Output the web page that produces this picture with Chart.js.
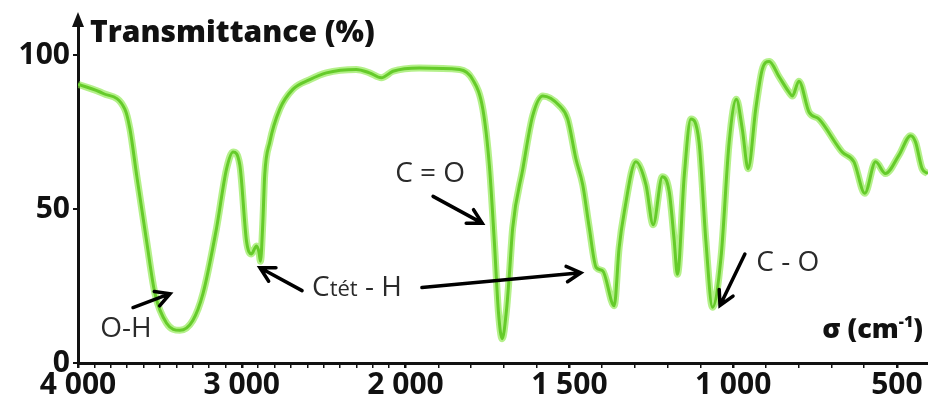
<!DOCTYPE html>
<html>
<head>
<meta charset="utf-8">
<script src="https://cdn.jsdelivr.net/npm/chart.js@4.4.1/dist/chart.umd.min.js"></script>
<style>
  html, body { margin: 0; padding: 0; background: #fff; }
  #wrap { width: 928px; height: 403px; }
</style>
</head>
<body>
<div id="wrap"><canvas id="ir"></canvas></div>
<script>
// spectrum, left (4000 cm-1) to right
const wavenumbers = [
  4000, 3846, 3714, 3683, 3642, 3581, 3530, 3459, 3378, 3299,
  3237, 3154, 3093, 3053, 3012, 2971, 2941, 2910, 2895, 2886,
  2872, 2860, 2829, 2768, 2687, 2585, 2484, 2301, 2220, 2148,
  2077, 1958, 1835, 1795, 1764, 1744, 1729, 1716, 1705, 1692,
  1683, 1673, 1642, 1612, 1581, 1530, 1505, 1480, 1459, 1439,
  1418, 1398, 1363, 1348, 1332, 1297, 1266, 1244, 1216, 1195,
  1180, 1170, 1149, 1129, 1104, 1083, 1063, 1037, 1012, 990,
  972, 954, 931, 911, 890, 860, 830, 819, 799, 768,
  738, 667, 631, 598, 565, 535, 494, 458, 443, 423, 405
];
const transmittance = [
  90.5, 87.5, 82.4, 76, 61, 39.5, 22.5, 12.9, 10.6, 13.8,
  22.5, 43.8, 63, 68.5, 64.3, 39.5, 35.4, 38, 36, 33,
  45, 61, 71.7, 82.4, 88.9, 92, 94.2, 95.3, 94.2, 92.6,
  94.7, 95.8, 95.3, 92, 82.4, 64, 39.5, 16, 7.9, 17,
  28.8, 43.8, 63, 80.2, 86.7, 83.5, 79.2, 66.3, 57.8, 43.8,
  31, 29.9, 18.6, 37.4, 49.2, 65.3, 57.8, 44.9, 60.5, 55.6,
  40, 28.8, 61, 79.2, 71.7, 39.5, 18.1, 34.2, 71.7, 85.6,
  76, 63.1, 82.4, 95.3, 97.9, 93, 88, 86.7, 91.5, 81.4,
  79.2, 68.5, 65.3, 55.1, 65.3, 61.5, 67.4, 73.8, 71.7, 63.1, 61.5
];
const xLabelled = [4000, 3000, 2000, 1500, 1000, 500];
const yTicks = [0, 50, 100];
const xTitle = 'σ (cm';
const yTitle = 'Transmittance (%)';

// band labels and their arrows, in (wavenumber, %T)
const notes = [
  { parts: [['O-H', 28]], w: 3707, t: 10.9, align: 'center' },
  { parts: [['C', 28], ['tét', 22], [' - H', 28]], w: 2571, t: 24.5, align: 'left' },
  { parts: [['C = O', 28]], w: 1925, t: 61.2, align: 'center' },
  { parts: [['C - O', 28]], w: 833, t: 32.5, align: 'center' }
];
const arrows = [
  [[3664, 18], [3438, 22.5]],
  [[2632, 23.5], [2889, 30.9]],
  [[1950, 24.5], [1465, 29.3]],
  [[1916, 54.1], [1766, 45.4]],
  [[964, 35.4], [1040, 18.7]]
];

// usual IR layout: the scale is twice as wide below 2000 cm-1
function toPos(w) { return w >= 2000 ? 4000 - w : 2000 + (2000 - w) * 2; }
function fromPos(p) { return p <= 2000 ? 4000 - p : 2000 - (p - 2000) / 2; }
function fmt(n) { return String(n).replace(/\B(?=(\d{3})+$)/, ' '); }

const points = wavenumbers.map((w, i) => ({ x: toPos(w), y: transmittance[i] }));
const xMax = toPos(405);

const extras = {
  id: 'extras',
  afterDraw(chart) {
    const ctx = chart.ctx;
    const area = chart.chartArea;
    const xs = chart.scales.x, ys = chart.scales.y;
    const px = w => xs.getPixelForValue(toPos(w));
    const py = t => ys.getPixelForValue(t);
    ctx.save();

    // arrow head on the y axis
    ctx.fillStyle = '#111';
    ctx.beginPath();
    ctx.moveTo(area.left, area.top - 6);
    ctx.lineTo(area.left - 6, area.top + 9);
    ctx.lineTo(area.left + 6, area.top + 9);
    ctx.closePath();
    ctx.fill();

    // axis titles
    ctx.fillStyle = '#111';
    ctx.font = '800 30px "Open Sans"';
    ctx.textBaseline = 'middle';
    ctx.textAlign = 'left';
    ctx.fillText(yTitle, area.left + 12, area.top + 15);

    const big = '800 27px "Open Sans"', small = '800 16px "Open Sans"';
    const sup = '-1';
    ctx.font = big;
    const w1 = ctx.measureText(xTitle).width;
    const w3 = ctx.measureText(')').width;
    ctx.font = small;
    const w2 = ctx.measureText(sup).width;
    const x0 = area.right - 5 - (w1 + w2 + w3);
    const yT = py(10.6);
    ctx.font = big;
    ctx.fillText(xTitle, x0, yT);
    ctx.fillText(')', x0 + w1 + w2, yT);
    ctx.font = small;
    ctx.fillText(sup, x0 + w1, yT - 8);

    // band labels
    ctx.fillStyle = '#2a2a2a';
    notes.forEach(n => {
      let total = 0;
      n.parts.forEach(p => { ctx.font = p[1] + 'px "Open Sans"'; total += ctx.measureText(p[0]).width; });
      let x = n.align === 'center' ? px(n.w) - total / 2 : px(n.w);
      const y = py(n.t);
      n.parts.forEach(p => {
        ctx.font = p[1] + 'px "Open Sans"';
        ctx.fillText(p[0], x, y + (p[1] < 28 ? 2 : 0));
        x += ctx.measureText(p[0]).width;
      });
    });

    // arrows
    ctx.strokeStyle = '#000';
    ctx.lineWidth = 3.5;
    ctx.lineCap = 'round';
    arrows.forEach(a => {
      const x1 = px(a[0][0]), y1 = py(a[0][1]);
      const x2 = px(a[1][0]), y2 = py(a[1][1]);
      const ang = Math.atan2(y2 - y1, x2 - x1);
      ctx.beginPath();
      ctx.moveTo(x1, y1);
      ctx.lineTo(x2, y2);
      ctx.moveTo(x2 - 16 * Math.cos(ang - 0.5), y2 - 16 * Math.sin(ang - 0.5));
      ctx.lineTo(x2, y2);
      ctx.lineTo(x2 - 16 * Math.cos(ang + 0.5), y2 - 16 * Math.sin(ang + 0.5));
      ctx.stroke();
    });
    ctx.restore();
  }
};

new Chart(document.getElementById('ir'), {
  type: 'line',
  data: {
    datasets: [
      {
        data: points,
        borderColor: 'rgba(130, 230, 60, 0.6)',
        borderWidth: 7,
        cubicInterpolationMode: 'monotone',
        pointRadius: 0
      },
      {
        data: points,
        borderColor: '#3aa310',
        borderWidth: 3,
        cubicInterpolationMode: 'monotone',
        pointRadius: 0
      }
    ]
  },
  options: {
    responsive: true,
    maintainAspectRatio: false,
    animation: false,
    layout: { padding: { top: 15, right: 0, left: 0, bottom: 0 } },
    plugins: { legend: { display: false }, tooltip: { enabled: false } },
    scales: {
      x: {
        type: 'linear',
        min: 0,
        max: xMax,
        afterFit: s => { s.height = 40; },
        afterBuildTicks: s => {
          const t = [];
          for (let w = 4000; w >= 500; w -= 100) t.push({ value: toPos(w) });
          s.ticks = t;
        },
        border: { display: true, color: '#111', width: 3 },
        grid: {
          drawOnChartArea: false,
          tickLength: 5,
          color: '#111',
          lineWidth: c => xLabelled.includes(Math.round(fromPos(c.tick.value))) ? 2.5 : 1.5
        },
        ticks: {
          autoSkip: false,
          maxRotation: 0,
          padding: 2,
          color: '#111',
          font: { family: 'Open Sans', weight: 'bold', size: 30, lineHeight: 1 },
          callback: v => {
            const w = Math.round(fromPos(v));
            return xLabelled.includes(w) ? fmt(w) : '';
          }
        }
      },
      y: {
        min: 0,
        max: 112,
        afterFit: s => { s.width = 78; },
        afterBuildTicks: s => { s.ticks = yTicks.map(v => ({ value: v })); },
        border: { display: true, color: '#111', width: 3 },
        grid: { drawOnChartArea: false, tickLength: 5, color: '#111', lineWidth: 2 },
        ticks: {
          padding: 3,
          color: '#111',
          font: { family: 'Open Sans', weight: 'bold', size: 30, lineHeight: 1 }
        }
      }
    }
  },
  plugins: [extras]
});
</script>
</body>
</html>
